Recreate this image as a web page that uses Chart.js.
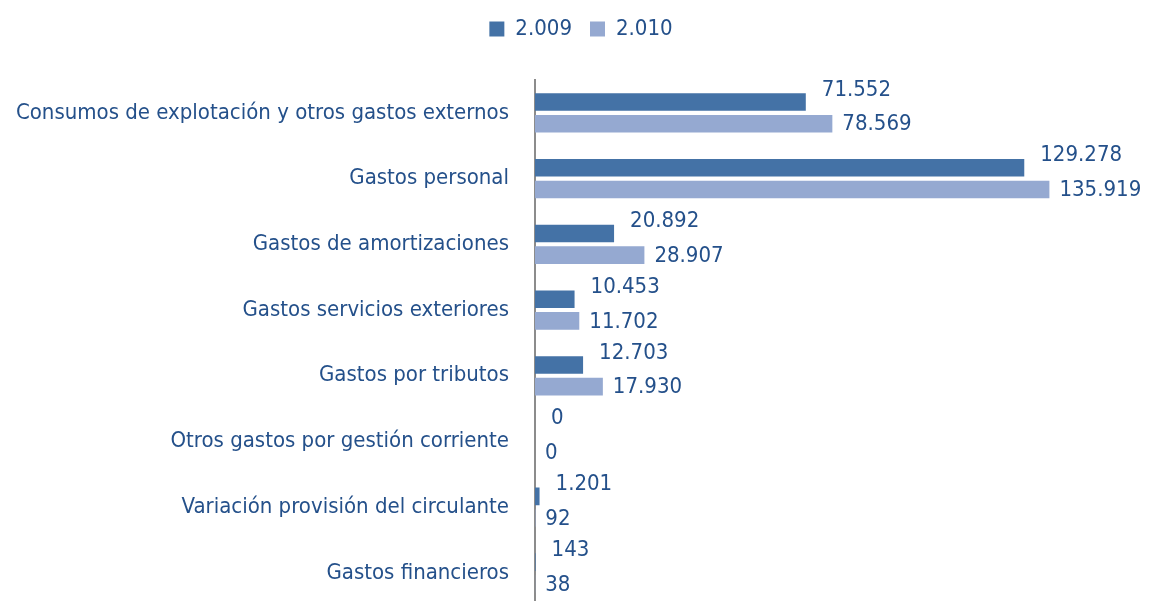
<!DOCTYPE html>
<html>
<head>
<meta charset="utf-8">
<script src="https://cdn.jsdelivr.net/npm/chart.js@4"></script>
<style>
  html, body { margin: 0; padding: 0; background: #fff; overflow: hidden; }
  canvas { display: block; }
</style>
</head>
<body>
<canvas id="grafico" width="1150" height="645"></canvas>
<script>
const categorias = [
    'Consumos de explotación y otros gastos externos',
    'Gastos personal',
    'Gastos de amortizaciones',
    'Gastos servicios exteriores',
    'Gastos por tributos',
    'Otros gastos por gestión corriente',
    'Variación provisión del circulante',
    'Gastos financieros'
];
const valores2009 = [71552, 129278, 20892, 10453, 12703, 0, 1201, 143];
const valores2010 = [78569, 135919, 28907, 11702, 17930, 0, 92, 38];
const etiquetasSeries = ['2.009', '2.010'];

const fuente = "'Liberation Sans Narrow', 'DejaVu Sans Condensed', sans-serif";
const colorTexto = '#24508a';

const formato = v => v.toLocaleString('de-DE');

// Espacio extra bajo la leyenda y pequeño desplazamiento a la derecha
const margenLeyenda = {
    id: 'margenLeyenda',
    beforeInit(chart) {
        const fitOriginal = chart.legend.fit;
        chart.legend.fit = function () {
            fitOriginal.bind(chart.legend)();
            this.height += 30;
        };
    },
    afterLayout(chart) {
        chart.legend.left += 6;
        chart.legend.right += 6;
    }
};

// Etiquetas de valor al final de cada barra
const etiquetasValor = {
    id: 'etiquetasValor',
    afterDatasetsDraw(chart) {
        const ctx = chart.ctx;
        ctx.save();
        ctx.font = '22px ' + fuente;
        ctx.fillStyle = colorTexto;
        ctx.textBaseline = 'middle';
        ctx.textAlign = 'left';
        chart.data.datasets.forEach((ds, i) => {
            const meta = chart.getDatasetMeta(i);
            meta.data.forEach((bar, j) => {
                const dx = i === 0 ? 16 : 10;
                const dy = i === 0 ? -12 : 1;
                ctx.fillText(formato(ds.data[j]), bar.x + dx, bar.y + dy);
            });
        });
        ctx.restore();
    }
};

new Chart(document.getElementById('grafico').getContext('2d'), {
    type: 'bar',
    data: {
        labels: categorias,
        datasets: [
            { label: etiquetasSeries[0], data: valores2009, backgroundColor: '#4472a6' },
            { label: etiquetasSeries[1], data: valores2010, backgroundColor: '#95a9d1' }
        ]
    },
    options: {
        indexAxis: 'y',
        responsive: false,
        animation: false,
        categoryPercentage: 0.66,
        barPercentage: 0.81,
        layout: { padding: { left: 0, right: 0, top: 0, bottom: 0 } },
        plugins: {
            legend: {
                position: 'top',
                labels: {
                    boxWidth: 15,
                    boxHeight: 15,
                    padding: 18,
                    color: colorTexto,
                    font: { family: fuente, size: 22 }
                }
            },
            tooltip: { enabled: false }
        },
        scales: {
            x: { display: false, min: 0, max: 162500 },
            y: {
                afterFit: scale => { scale.width = 535; },
                grid: { display: false, drawTicks: false },
                border: { display: true, color: '#8c8c8c', width: 2 },
                ticks: {
                    padding: 26,
                    color: colorTexto,
                    font: { family: fuente, size: 22 }
                }
            }
        }
    },
    plugins: [margenLeyenda, etiquetasValor]
});
</script>
</body>
</html>
